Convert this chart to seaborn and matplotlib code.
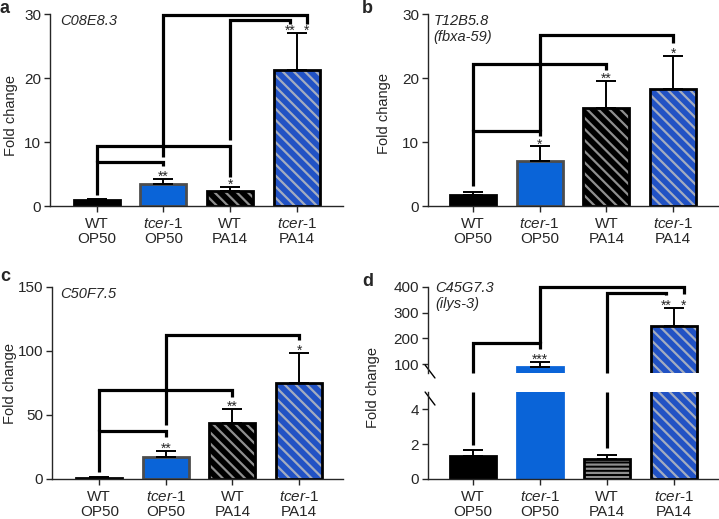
import numpy as np
import pandas as pd
import matplotlib.pyplot as plt
import seaborn as sns

conditions = ['WT OP50', 'tcer-1 OP50', 'WT PA14', 'tcer-1 PA14']
tick_labels = ['WT\nOP50', '$\\mathit{tcer}$-$\\mathit{1}$\nOP50',
               'WT\nPA14', '$\\mathit{tcer}$-$\\mathit{1}$\nPA14']

# a - C08E8.3
a_means = [1.0, 3.4, 2.3, 21.3]
a_err = [0.15, 0.8, 0.7, 5.8]
a_stars = [(1, '**'), (2, '*'), (2.9, '**'), (3.15, '*')]
# brackets: (x left, x right, top, left end, right end)
a_brackets = [(0, 1, 6.9, 1.75, 6.2), (0, 2, 9.45, 6.9, 4.6),
              (1, 3.15, 29.8, 7.7, 28.5), (2, 2.9, 29.0, 10.3, 28.5)]

# b - T12B5.8 (fbxa-59)
b_means = [1.75, 7.0, 15.3, 18.3]
b_err = [0.45, 2.3, 4.3, 5.2]
b_stars = [(1, '*'), (2, '**'), (3, '*')]
b_brackets = [(0, 1, 11.65, 3.06, 11.0), (0, 2, 22.2, 11.65, 21.3),
              (1, 3, 26.75, 11.65, 25.4)]

# c - C50F7.5
c_means = [0.9, 17.0, 43.5, 74.8]
c_err = [0.6, 5.0, 11.5, 23.9]
c_stars = [(1, '**'), (2, '**'), (3, '*')]
c_brackets = [(0, 1, 37.7, 5.7, 33.0), (0, 2, 69.5, 37.7, 64.3),
              (1, 3, 112.5, 42.0, 108.6)]

# d - C45G7.3 (ilys-3), broken axis
d_means = [1.3, 88.0, 1.15, 248.0]
d_err = [0.35, 21.0, 0.25, 71.0]
d_stars = [(1, '***'), (2.89, '**'), (3.15, '*')]
d_brackets = [(0, 1, 182, 65, 157), (1, 3.15, 400, 182, 372),
              (2, 2.89, 377, 65, 368)]
d_low_legs = [(0, 5, 1.94), (2, 5, 1.77)]

blue = '#0a64d8'
blue_dark = '#2152c4'
fills = ['black', blue, 'black', blue_dark]
hatch_cols = ['black', blue, '#8f8f8f', '#a3acc0']
hatches = ['', '', '\\\\\\', '\\\\\\']
edges = ['black', '#4d4d4d', 'black', 'black']
d_hatches = ['', '', '----', '\\\\\\']
d_edges = ['black', blue, 'black', 'black']

sns.set_style('ticks')
plt.rcParams['font.family'] = ['Liberation Sans', 'DejaVu Sans']
plt.rcParams['mathtext.fontset'] = 'custom'
plt.rcParams['mathtext.it'] = 'Liberation Sans:italic'
plt.rcParams['mathtext.rm'] = 'Liberation Sans'
plt.rcParams['hatch.linewidth'] = 1.6


def draw_bars(ax, means, errs, hatch_list, edge_list):
    df = pd.DataFrame({'condition': conditions, 'fold': means})
    sns.barplot(data=df, x='condition', y='fold', order=conditions, width=0.69,
                errorbar=None, saturation=1, linewidth=0, ax=ax)
    n = len(ax.patches)
    for p, fc, h, hc in zip(ax.patches, fills, hatch_list, hatch_cols):
        p.set_facecolor(fc)
        p.set_edgecolor(hc)
        p.set_hatch(h)
    sns.barplot(data=df, x='condition', y='fold', order=conditions, width=0.69,
                errorbar=None, fill=False, linewidth=2, ax=ax)
    for p, ec in zip(ax.patches[n:], edge_list):
        p.set_edgecolor(ec)
    ax.errorbar(np.arange(len(conditions)), means, yerr=[np.zeros(len(errs)), errs],
                fmt='none', ecolor='black', elinewidth=1.4, capsize=7.5,
                capthick=1.4, zorder=1)


def draw_brackets(ax, brackets):
    for x1, x2, top, e1, e2 in brackets:
        ax.plot([x1, x1, x2, x2], [e1, top, top, e2], color='black', lw=2.3,
                solid_joinstyle='miter', solid_capstyle='butt', clip_on=False,
                zorder=5)


def draw_stars(ax, stars, means, errs):
    for x, s in stars:
        i = int(round(x))
        ax.annotate(s, (x, means[i] + errs[i]), xytext=(0, -1.5),
                    textcoords='offset points', ha='center', va='baseline',
                    fontsize=10)


def style_axis(ax, yticks, ylim, xlim):
    ax.set_ylim(*ylim)
    ax.set_yticks(yticks)
    ax.set_xlim(*xlim)
    ax.set_xlabel('')
    ax.set_xticks(np.arange(len(conditions)))
    ax.set_xticklabels(tick_labels, fontsize=11, linespacing=1.05)
    ax.tick_params(axis='both', direction='out', length=4.5, width=1,
                   labelsize=11, pad=2)
    ax.tick_params(axis='x', pad=3.5)
    for side in ['left', 'bottom']:
        ax.spines[side].set_linewidth(1)
    sns.despine(ax=ax)


fig = plt.figure(figsize=(7.19, 5.19), dpi=100)
W, H = 719, 519


def px_axes(left, right, top, bottom):
    return fig.add_axes([left / W, 1 - bottom / H, (right - left) / W, (bottom - top) / H])


# panel a
ax_a = px_axes(50, 343, 14, 206)
draw_bars(ax_a, a_means, a_err, hatches, edges)
style_axis(ax_a, [0, 10, 20, 30], (0, 30), (-0.70, 3.69))
draw_brackets(ax_a, a_brackets)
draw_stars(ax_a, a_stars, a_means, a_err)
ax_a.set_ylabel('Fold change', fontsize=10.5)
ax_a.yaxis.set_label_coords(-0.109, 0.47)
ax_a.text(0.034, 1.0, 'C08E8.3', transform=ax_a.transAxes, fontsize=10.5,
          fontstyle='italic', va='top', ha='left')

# panel b
ax_b = px_axes(428, 718, 14, 206)
draw_bars(ax_b, b_means, b_err, hatches, edges)
style_axis(ax_b, [0, 10, 20, 30], (0, 30), (-0.67, 3.67))
draw_brackets(ax_b, b_brackets)
draw_stars(ax_b, b_stars, b_means, b_err)
ax_b.set_ylabel('Fold change', fontsize=10.5)
ax_b.yaxis.set_label_coords(-0.127, 0.48)
ax_b.text(0.02, 1.0, 'T12B5.8\n(fbxa-59)', transform=ax_b.transAxes, fontsize=10.5,
          fontstyle='italic', va='top', ha='left')

# panel c
ax_c = px_axes(52, 343, 287, 479)
draw_bars(ax_c, c_means, c_err, hatches, edges)
style_axis(ax_c, [0, 50, 100, 150], (0, 150), (-0.71, 3.66))
draw_brackets(ax_c, c_brackets)
draw_stars(ax_c, c_stars, c_means, c_err)
ax_c.set_ylabel('Fold change', fontsize=10.5)
ax_c.yaxis.set_label_coords(-0.12, 0.5)
ax_c.text(0.027, 1.0, 'C50F7.5', transform=ax_c.transAxes, fontsize=10.5,
          fontstyle='italic', va='top', ha='left')

# panel d, upper part
ax_du = px_axes(428, 718, 287, 373)
draw_bars(ax_du, d_means, d_err, d_hatches, d_edges)
style_axis(ax_du, [100, 200, 300, 400], (65, 400), (-0.67, 3.66))
ax_du.spines['bottom'].set_visible(False)
ax_du.tick_params(axis='x', bottom=False, labelbottom=False)
ax_du.set_ylabel('')
draw_brackets(ax_du, d_brackets)
draw_stars(ax_du, d_stars, d_means, d_err)
ax_du.text(0.024, 1.075, 'C45G7.3\n(ilys-3)', transform=ax_du.transAxes, fontsize=10.5,
           fontstyle='italic', va='top', ha='left')
ax_du.plot([-0.01, 0.024], [0.093, -0.058], transform=ax_du.transAxes,
           color='black', lw=1, clip_on=False)

# panel d, lower part
ax_dl = px_axes(428, 718, 392, 479)
draw_bars(ax_dl, d_means, d_err, d_hatches, d_edges)
style_axis(ax_dl, [0, 2, 4], (0, 5), (-0.67, 3.66))
ax_dl.set_ylabel('')
for x, top, end in d_low_legs:
    ax_dl.plot([x, x], [top, end], color='black', lw=2.3, solid_capstyle='butt',
               zorder=5)
ax_dl.plot([-0.01, 0.024], [1.0, 0.85], transform=ax_dl.transAxes,
           color='black', lw=1, clip_on=False)
fig.text(373 / W, 1 - 388 / H, 'Fold change', rotation=90, fontsize=10.5,
         ha='center', va='center')

# panel letters
for lab, x, y in [('a', 0, 13), ('b', 362, 13), ('c', 0, 281), ('d', 362, 286)]:
    fig.text(x / W, 1 - y / H, lab, fontsize=13, fontweight='bold', va='baseline')

fig.savefig('out.png', dpi=100)
